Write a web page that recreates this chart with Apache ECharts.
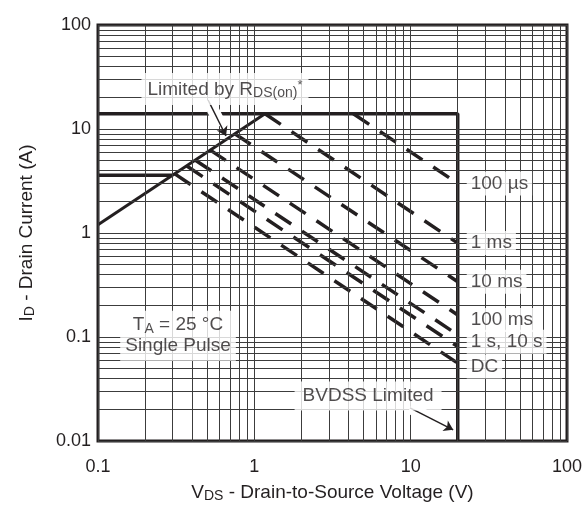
<!DOCTYPE html>
<html>
<head>
<meta charset="utf-8">
<script src="https://cdn.jsdelivr.net/npm/echarts@6/dist/echarts.min.js"></script>
<style>
html, body { margin: 0; padding: 0; background: #fff; }
#main { width: 587px; height: 507px; }
</style>
</head>
<body>
<div id="main"></div>
<script>
// axis decades
var xTicks = [0.1, 1, 10, 100];
var yTicks = [0.01, 0.1, 1, 10, 100];

// limit lines
var idLimit = [[0.1, 14], [20, 14], [20, 0.01]];
var rdsLimit = [[0.1, 1.2], [1.17, 14]];
var lowLimit = [[0.1, 3.6], [0.3, 3.6]];

// pulse curves: start on the limit, end at BVDSS (20 V)
var pulseNames = ['100 µs', '1 ms', '10 ms', '100 ms', '1 s', '10 s', 'DC'];
var pulseStartV = [4.3, 1.17, 0.75, 0.52, 0.42, 0.37, 0.31];
var pulseStartI = [14, 14, 9.0, 6.3, 5.0, 4.4, 3.7];
var pulseEndV = [20, 20, 20, 20, 20, 20, 20];
var pulseEndI = [3.0, 0.8, 0.34, 0.163, 0.105, 0.081, 0.056];

// curve labels at the 20 V line
var endLabelText = ['100 µs', '1 ms', '10 ms', '100 ms', '1 s, 10 s', 'DC'];
var endLabelI = [3.0, 0.8, 0.34, 0.146, 0.09, 0.052];

// arrows (value coords): start, end, end of white halo
var rdsArrow = [[0.506, 19], [0.659, 8.57], [0.61, 10.8]];
var bvArrow = [[9.9, 0.0208], [18.7, 0.0128], [14, 0.016]];

var font = "'Liberation Sans', Arial, Helvetica, sans-serif";
var ink = '#231f20';

function minorGrid(ticks) {
  var out = [];
  for (var i = 0; i < ticks.length - 1; i++) {
    for (var m = 1; m < 10; m++) out.push(+(m * ticks[i]).toPrecision(3));
  }
  out.push(ticks[ticks.length - 1]);
  return out;
}
var xGrid = minorGrid(xTicks);
var yGrid = minorGrid(yTicks);

var rich = {
  n: { fontSize: 19, lineHeight: 21, color: ink, fontFamily: font },
  s: { fontSize: 14, lineHeight: 9, color: ink, fontFamily: font, verticalAlign: 'bottom' },
  sup: { fontSize: 13, lineHeight: 12, color: ink, fontFamily: font, verticalAlign: 'top' }
};

var myChart = echarts.init(document.getElementById('main'));

var series = [];

// grid lines
series.push({
  name: 'grid',
  type: 'line',
  data: [],
  silent: true,
  markLine: {
    silent: true,
    animation: false,
    symbol: ['none', 'none'],
    label: { show: false },
    lineStyle: { color: '#3c3c3c', width: 1, type: 'solid' },
    data: xGrid.map(function (v) { return { xAxis: v }; })
      .concat(yGrid.map(function (v) { return { yAxis: v }; }))
  }
});

// solid limits
[[idLimit, 3.5], [rdsLimit, 3], [lowLimit, 3.5]].forEach(function (l) {
  series.push({
    type: 'line',
    data: l[0],
    symbol: 'none',
    silent: true,
    z: 3,
    lineStyle: { color: ink, width: l[1], cap: 'butt' }
  });
});

// pulse curves
pulseNames.forEach(function (nm, i) {
  series.push({
    name: nm,
    type: 'line',
    data: [[pulseStartV[i], pulseStartI[i]], [pulseEndV[i], pulseEndI[i]]],
    symbol: 'none',
    silent: true,
    z: 3,
    lineStyle: { color: ink, width: 3.5, type: [19, 13], cap: 'butt' }
  });
});

// arrows, each with a white halo drawn first
var halo = { color: '#fff', width: 12, type: 'solid', cap: 'butt' };
series.push({
  type: 'line',
  data: [],
  silent: true,
  z: 5,
  markLine: {
    silent: true,
    z: 5,
    animation: false,
    symbol: ['none', 'arrow'],
    symbolSize: 9,
    label: { show: false },
    lineStyle: { color: ink, width: 1.5, type: 'solid' },
    data: [
      [{ coord: rdsArrow[0], symbol: 'none', lineStyle: halo }, { coord: rdsArrow[2], symbol: 'none' }],
      [{ coord: bvArrow[0], symbol: 'none', lineStyle: halo }, { coord: bvArrow[2], symbol: 'none' }],
      [{ coord: rdsArrow[0] }, { coord: rdsArrow[1] }],
      [{ coord: bvArrow[0] }, { coord: bvArrow[1] }]
    ]
  }
});

// curve end labels
series.push({
  type: 'scatter',
  symbolSize: 0,
  silent: true,
  z: 6,
  data: endLabelText.map(function (t, i) { return { name: t, value: [20, endLabelI[i]] }; }),
  label: {
    show: true,
    position: 'right',
    distance: 9,
    formatter: '{b}',
    color: ink,
    fontSize: 19,
    fontFamily: font,
    backgroundColor: '#fff',
    padding: [3, 4, 2, 4]
  }
});

// notes
var notes = [
  { text: '{n|Limited by R}{s|DS(on)}{sup|*}', value: [0.649, 24.3], pad: [6, 6, 5, 6] },
  { text: '{n|T}{s|A}{n| = 25 °C}\n{n|Single Pulse}', value: [0.325, 0.103], pad: [4, 5, 4, 5] },
  { text: '{n|BVDSS Limited}', value: [5.34, 0.0271], pad: [4, 8, 4, 8] }
];
series.push({
  type: 'scatter',
  symbolSize: 0,
  silent: true,
  z: 6,
  data: notes.map(function (nt) {
    return {
      value: nt.value,
      label: {
        show: true,
        position: 'inside',
        formatter: nt.text,
        rich: rich,
        align: 'center',
        backgroundColor: '#fff',
        padding: nt.pad
      }
    };
  })
});

var option = {
  backgroundColor: '#fff',
  animation: false,
  textStyle: { fontFamily: font },
  grid: {
    left: 98, right: 20, top: 25, bottom: 66,
    outerBoundsMode: 'none',
    show: true, borderColor: ink, borderWidth: 3, backgroundColor: 'transparent'
  },
  xAxis: {
    type: 'log', logBase: 10, min: 0.1, max: 100,
    name: '{n|V}{s|DS}{n| - Drain-to-Source Voltage (V)}',
    nameLocation: 'middle', nameGap: 41,
    nameTextStyle: { rich: rich },
    axisLine: { show: false }, axisTick: { show: false },
    splitLine: { show: false }, minorSplitLine: { show: false },
    axisLabel: {
      margin: 17, color: ink, fontSize: 18, fontFamily: font,
      formatter: function (v) { return String(+(+v).toPrecision(2)); }
    }
  },
  yAxis: {
    type: 'log', logBase: 10, min: 0.01, max: 100,
    name: '{n|I}{s|D}{n| - Drain Current (A)}',
    nameLocation: 'middle', nameGap: 61, nameRotate: 90,
    nameTextStyle: { rich: rich },
    axisLine: { show: false }, axisTick: { show: false },
    splitLine: { show: false }, minorSplitLine: { show: false },
    axisLabel: {
      margin: 7, color: ink, fontSize: 18, fontFamily: font,
      formatter: function (v) { return String(+(+v).toPrecision(2)); }
    }
  },
  series: series
};

myChart.setOption(option);
</script>
</body>
</html>
